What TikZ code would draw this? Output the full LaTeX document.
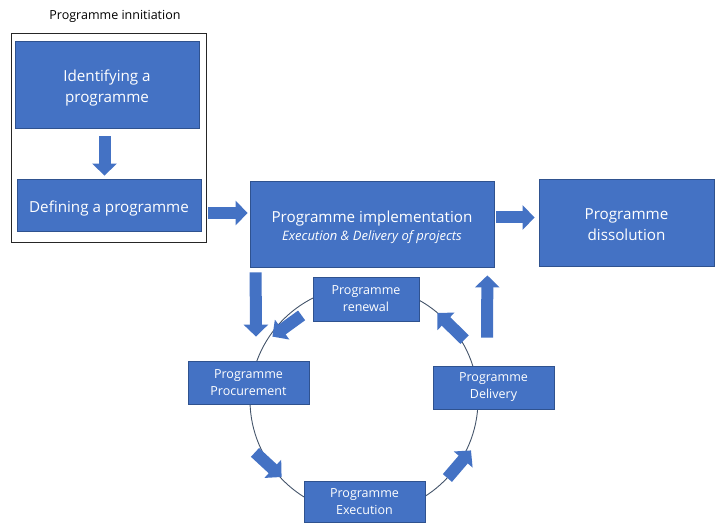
\documentclass[tikz,border=0pt]{standalone}
\usepackage{fontspec}
\setmainfont{Open Sans}
\usetikzlibrary{arrows.meta}
\definecolor{boxfill}{HTML}{4472C4}
\definecolor{boxline}{HTML}{2F528F}
\definecolor{ringline}{HTML}{44546A}
% centred lines, drawn a little lower while the box keeps its size
\newcommand\stagetext[1]{\raisebox{-3.5pt}[\height][\depth]{\begin{tabular}{@{}c@{}}#1\end{tabular}}}
\tikzset{
  stage/.style={draw=boxline, line width=0.8pt, fill=boxfill, text=white,
    align=center, inner sep=0pt, font=\fontsize{15.2}{22}\selectfont},
  substage/.style={stage, font=\fontsize{12.5}{17}\selectfont},
  blockarrow/.style={draw=boxfill, line width=12pt,
    -{Triangle[width=24pt,length=12pt]}},
  ring/.style={draw=ringline, line width=0.9pt},
}
\begin{document}
\begin{tikzpicture}[x=1pt,y=-1pt]
  \useasboundingbox (0,0) rectangle (716,524);

  % initiation group
  \node (title) at (115,16.5) {\fontsize{12.5}{15}\selectfont Programme innitiation};
  \node (initbox) [draw=black!85, line width=0.8pt, minimum width=195pt,
    minimum height=209pt, inner sep=0pt] at (108.5,137.5) {};
  \node (ident) [stage, minimum width=184pt, minimum height=87pt]
    at (107,84.5) {\stagetext{Identifying a\\[-1pt]programme}};
  \node (def) [stage, minimum width=184pt, minimum height=52pt]
    at (109,205) {\stagetext{Defining a programme}};

  % main line
  \node (impl) [stage, minimum width=244pt, minimum height=86pt] at (372,224)
    {\stagetext{Programme implementation\\[-4pt]{\fontsize{13}{17}\selectfont\itshape Execution \& Delivery of projects}}};
  \node (diss) [stage, minimum width=175pt, minimum height=87pt]
    at (626.5,222.5) {\stagetext{Programme\\[-1pt]dissolution}};

  % implementation cycle
  \coordinate (hub) at (364,400);
  \draw[ring] (hub) circle[radius=114pt];
  \node (renew) [substage, minimum width=106pt, minimum height=44pt]
    at (366,299) {Programme\\renewal};
  \node (proc) [substage, minimum width=121pt, minimum height=43pt]
    at (248.5,382.5) {Programme\\Procurement};
  \node (deliv) [substage, minimum width=121pt, minimum height=43pt]
    at (493.5,387.5) {Programme\\Delivery};
  \node (exec) [substage, minimum width=121pt, minimum height=41pt]
    at (364.5,502) {Programme\\Execution};

  % block arrows
  \draw[blockarrow] ([shift={(-2.5,8)}]ident.south) -- ([shift={(-4.5,-3)}]def.north);
  \draw[blockarrow] ([shift={(7,8)}]def.east) -- ([shift={(-2,-11)}]impl.west);
  \draw[blockarrow] ([shift={(2,-6.5)}]impl.east) -- ([shift={(-4,-5)}]diss.west);
  \draw[blockarrow] ([shift={(6,5)}]impl.south west) -- ([shift={(7.5,-24)}]proc.north);
  \draw[blockarrow] ([shift={(-11,-6)}]renew.south west) -- ([shift={(-37,-24)}]proc.north east);
  \draw[blockarrow] ([shift={(6.5,48)}]proc.south) -- ([shift={(-22,-25)}]exec.west);
  \draw[blockarrow] ([shift={(22,-24)}]exec.east) -- ([shift={(-22.5,41)}]deliv.south);
  \draw[blockarrow] ([shift={(32,-26)}]deliv.north west) -- ([shift={(18,14)}]renew.east);
  \draw[blockarrow] ([shift={(-6.5,-28)}]deliv.north) -- ([shift={(-7,8)}]impl.south east);
\end{tikzpicture}
\end{document}
